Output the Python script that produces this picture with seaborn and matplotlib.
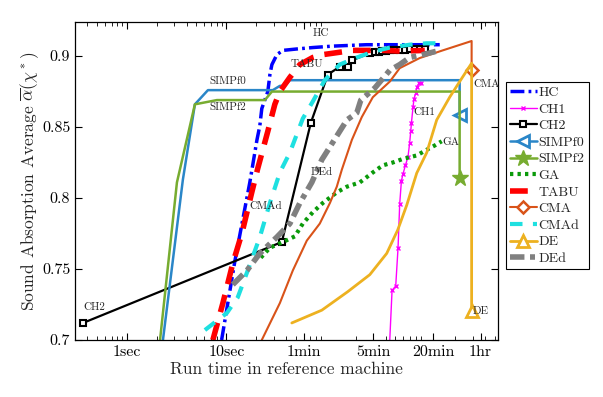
import numpy as np
import seaborn as sns
import matplotlib
matplotlib.use('Agg')
import matplotlib.pyplot as plt


# run time (s) and sound absorption average
hc_t = [8.95, 12.2, 17.2, 20.3, 21.7, 22.7, 26.1, 27.4, 28.7, 32.2, 37.0, 51.2, 74.0, 117, 258, 554, 1400]
hc_v = [0.700, 0.756, 0.811, 0.841, 0.851, 0.863, 0.875, 0.887, 0.894, 0.901, 0.904, 0.905, 0.906, 0.907,
        0.908, 0.908, 0.908]

ch1_t = [438, 464, 505, 533, 554, 576, 598, 632, 671, 698, 715, 727, 754, 772, 803, 827, 866, 916]
ch1_v = [0.697, 0.735, 0.738, 0.765, 0.796, 0.812, 0.817, 0.823, 0.829, 0.839, 0.847, 0.853, 0.864, 0.870,
         0.874, 0.878, 0.881, 0.881]

ch2_t = [0.361, 36.1, 70.7, 105, 138, 166, 183, 277, 311, 340, 370, 400, 440, 490, 554, 622, 698, 784,
         880, 990]
ch2_v = [0.712, 0.769, 0.853, 0.887, 0.8925, 0.8925, 0.897, 0.902, 0.903, 0.9032, 0.9035, 0.9037, 0.904,
         0.904, 0.9042, 0.9045, 0.9047, 0.905, 0.905, 0.905]

simpf0_t = [2.30, 3.65, 4.82, 6.52, 29.3, 34.5, 38.7, 43.5, 2220, 2220]
simpf0_v = [0.700, 0.813, 0.866, 0.876, 0.876, 0.879, 0.879, 0.883, 0.883, 0.8585]

simpf2_t = [2.15, 3.18, 4.82, 8.03, 24.4, 28.7, 2220, 2220]
simpf2_v = [0.700, 0.811, 0.866, 0.869, 0.869, 0.875, 0.875, 0.814]

ga_t = [22.2, 27.4, 37.0, 48.8, 58.7, 74.0, 93.3, 129, 163, 220, 297, 374, 471, 594, 822, 1036, 1245, 1465]
ga_v = [0.758, 0.765, 0.769, 0.773, 0.782, 0.790, 0.7965, 0.804, 0.808, 0.811, 0.818, 0.823, 0.825,
        0.8275, 0.830, 0.834, 0.837, 0.840]

tabu_t = [7.31, 9.22, 11.6, 14.3, 18.0, 20.7, 26.1, 30.7, 34.5, 43.5, 54.8, 74.0, 93.3, 187, 374, 554, 990]
tabu_v = [0.700, 0.726, 0.754, 0.775, 0.804, 0.821, 0.847, 0.866, 0.875, 0.885, 0.894, 0.899, 0.901, 0.904,
          0.904, 0.9035, 0.904]

cma_t = [22.7, 34.5, 46.6, 64.4, 87.0, 110, 129, 145, 183, 230, 297, 440, 554, 880, 1500, 2930, 2930]
cma_v = [0.700, 0.726, 0.749, 0.770, 0.782, 0.7965, 0.808, 0.820, 0.841, 0.857, 0.871, 0.882, 0.8915,
         0.8986, 0.904, 0.9106, 0.890]

cmad_t = [6.08, 10.1, 13.0, 16.4, 21.7, 27.4, 34.5, 43.5, 58.7, 74.0, 97.7, 138, 205, 297, 440, 698, 1036,
          1400]
cmad_v = [0.707, 0.719, 0.730, 0.749, 0.7725, 0.7965, 0.818, 0.832, 0.856, 0.868, 0.883, 0.894, 0.899,
          0.903, 0.906, 0.908, 0.909, 0.909]

de_t = [45.5, 91.2, 166, 277, 410, 529, 652, 822, 1036, 1305, 1762, 2220, 2930, 2930]
de_v = [0.712, 0.721, 0.734, 0.746, 0.761, 0.7775, 0.795, 0.8176, 0.832, 0.855, 0.871, 0.882, 0.895, 0.7204]

ded_t = [11.6, 16.1, 21.7, 32.2, 43.5, 54.8, 72.3, 91.2, 117, 163, 205, 225, 311, 440, 554, 698, 944, 1400]
ded_v = [0.739, 0.749, 0.761, 0.7725, 0.782, 0.7965, 0.811, 0.827, 0.839, 0.855, 0.860, 0.869, 0.8775,
         0.890, 0.894, 0.899, 0.901, 0.904]

tick_pos = [1, 10, 60, 300, 1200, 3600]
tick_labels = ['1sec', '10sec', '1min', '5min', '20min', '1hr']
ytick_pos = [0.7, 0.75, 0.8, 0.85, 0.9]
ytick_labels = ['0.7', '0.75', '0.8', '0.85', '0.9']


def draw(ax, t, v, label, color, **kws):
    # seaborn paints marker edges white by default, so give them the line colour
    kws.setdefault('markeredgecolor', color)
    sns.lineplot(x=t, y=v, ax=ax, label=label, color=color, estimator=None, sort=False, **kws)


def main():
    sns.set_style('ticks')
    plt.rcParams['font.family'] = ['cmr10', 'DejaVu Serif']
    plt.rcParams['mathtext.fontset'] = 'cm'
    plt.rcParams['axes.formatter.use_mathtext'] = True

    fig = plt.figure(figsize=(6.03, 3.97), dpi=100)
    ax = fig.add_axes([0.1244, 0.1436, 0.7015, 0.801])

    draw(ax, hc_t, hc_v, 'HC', '#0000ff', linewidth=2.5, linestyle=(0, (4, 1.2, 0.8, 1.2)))
    draw(ax, ch1_t, ch1_v, 'CH1', '#ff00ff', linewidth=1, marker='x', markersize=3.5,
         markeredgewidth=1)
    draw(ax, ch2_t, ch2_v, 'CH2', 'black', linewidth=1.6, marker='s', markersize=4.5,
         markerfacecolor='white', markeredgewidth=1.5)
    draw(ax, simpf0_t, simpf0_v, 'SIMPf0', '#2a86c8', linewidth=1.8, marker='<', markersize=8,
         markerfacecolor='white', markeredgewidth=2, markevery=[len(simpf0_t) - 1])
    draw(ax, simpf2_t, simpf2_v, 'SIMPf2', '#77ac30', linewidth=1.8, marker='*', markersize=12,
         markeredgewidth=1, markevery=[len(simpf2_t) - 1])
    draw(ax, ga_t, ga_v, 'GA', '#0a9a0a', linewidth=3, linestyle=(0, (0.8, 1.0)))
    draw(ax, tabu_t, tabu_v, 'TABU', '#ff0000', linewidth=4, linestyle=(0, (3.2, 2.0)))
    draw(ax, cma_t, cma_v, 'CMA', '#d95319', linewidth=1.5, marker='D', markersize=6,
         markerfacecolor='white', markeredgewidth=1.8, markevery=[len(cma_t) - 1])
    draw(ax, cmad_t, cmad_v, 'CMAd', '#1ee0e0', linewidth=3, linestyle=(0, (3.0, 2.5)))
    draw(ax, de_t, de_v, 'DE', '#edb120', linewidth=2, marker='^', markersize=8,
         markerfacecolor='white', markeredgewidth=2, markevery=[len(de_t) - 1])
    draw(ax, ded_t, ded_v, 'DEd', '#808080', linewidth=4, linestyle=(0, (2.6, 1.0, 0.9, 1.0)))

    ax.set_xscale('log')
    ax.set_xlim(0.3, 5400)
    ax.set_ylim(0.7, 0.924)
    ax.set_xticks(tick_pos)
    ax.set_xticklabels(tick_labels)
    ax.set_yticks(ytick_pos)
    ax.set_yticklabels(ytick_labels)
    ax.tick_params(which='both', direction='in', top=True, right=True, colors='black',
                   labelsize=11.5)
    ax.tick_params(which='major', length=5, width=0.8)
    ax.tick_params(which='minor', length=3, width=0.6)
    for sp in ax.spines.values():
        sp.set_color('black')
        sp.set_linewidth(0.9)

    ax.set_xlabel('Run time in reference machine', fontsize=12.5, labelpad=2)
    ax.set_ylabel(r'Sound Absorption Average $\overline{\alpha}(\chi^*)$', fontsize=12.5, labelpad=1)

    notes = [('HC', 89, 0.9162), ('TABU', 64.4, 0.8944), ('SIMPf0', 10.4, 0.8824),
             ('SIMPf2', 10.4, 0.8641), ('CH1', 988, 0.8606), ('GA', 1803, 0.8394),
             ('CMA', 4150, 0.8803), ('DEd', 91, 0.8183), ('CMAd', 24.9, 0.7944),
             ('CH2', 0.466, 0.7232), ('DE', 3610, 0.7204)]
    for text, tx, ty in notes:
        ax.text(tx, ty, text, fontsize=8, ha='center', va='center')

    leg = ax.legend(loc='upper left', bbox_to_anchor=(1.019, 0.811), fontsize=10, frameon=True,
                    fancybox=False, framealpha=1, edgecolor='black', handlelength=1.9,
                    handletextpad=0.15, labelspacing=0.28, borderpad=0.3, borderaxespad=0)
    leg.get_frame().set_linewidth(0.8)

    fig.savefig('out.png', dpi=100)


if __name__ == '__main__':
    main()
